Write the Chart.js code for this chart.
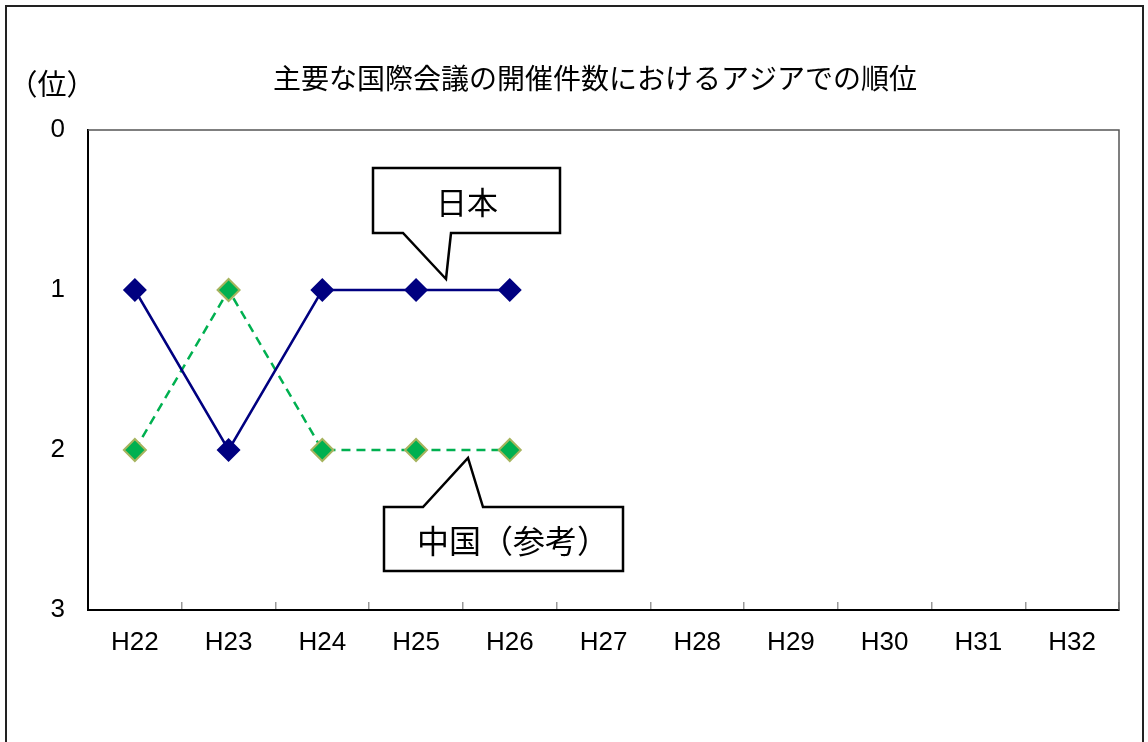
<!DOCTYPE html>
<html>
<head>
<meta charset="utf-8">
<script src="https://cdn.jsdelivr.net/npm/chart.js@4/dist/chart.umd.min.js"></script>
<style>
  body { margin: 0; background: #fff; }
  #rankChart { display: block; }
</style>
</head>
<body>
<canvas id="rankChart" width="1148" height="742"></canvas>
<script>
// data
let years = ['H22', 'H23', 'H24', 'H25', 'H26', 'H27', 'H28', 'H29', 'H30', 'H31', 'H32'];
let japanRank = [1, 2, 1, 1, 1, null, null, null, null, null, null];
let chinaRank = [2, 1, 2, 2, 2, null, null, null, null, null, null];
let rankTicks = [0, 1, 2, 3];

let titleText = '主要な国際会議の開催件数におけるアジアでの順位';
let unitText = '（位）';
let japanLabel = '日本';
let chinaLabel = '中国（参考）';

const cjkFont = '"Noto Sans CJK JP", "Noto Sans", sans-serif';
const latinFont = '"Liberation Sans", Arial, sans-serif';

// frame, title and callouts
const decorations = {
    id: 'decorations',
    beforeDraw(chart) {
        const c = chart.ctx;
        c.save();
        c.strokeStyle = '#222';
        c.lineWidth = 2;
        c.strokeRect(6, 6, 1137, 760);
        c.restore();
    },
    afterDatasetsDraw(chart) {
        const c = chart.ctx;
        const a = chart.chartArea;
        c.save();
        // top and right edges of the plot area
        c.strokeStyle = '#555';
        c.lineWidth = 1.5;
        c.beginPath();
        c.moveTo(a.left, a.top);
        c.lineTo(a.right, a.top);
        c.lineTo(a.right, a.bottom);
        c.stroke();

        c.fillStyle = '#000';
        c.textBaseline = 'middle';
        c.textAlign = 'center';
        c.font = '28px ' + cjkFont;
        c.fillText(titleText, 595, 78);
        c.font = '29px ' + cjkFont;
        c.fillText(unitText, 52, 84);

        // callout boxes
        c.lineWidth = 2.5;
        c.strokeStyle = '#000';
        c.lineJoin = 'miter';

        c.beginPath();
        c.moveTo(373, 168);
        c.lineTo(560, 168);
        c.lineTo(560, 233);
        c.lineTo(451, 233);
        c.lineTo(446, 279);
        c.lineTo(403, 233);
        c.lineTo(373, 233);
        c.closePath();
        c.fillStyle = '#fff';
        c.fill();
        c.stroke();

        c.beginPath();
        c.moveTo(384, 507);
        c.lineTo(423, 507);
        c.lineTo(468, 458);
        c.lineTo(483, 507);
        c.lineTo(623, 507);
        c.lineTo(623, 571);
        c.lineTo(384, 571);
        c.closePath();
        c.fill();
        c.stroke();

        c.fillStyle = '#000';
        c.font = '31px ' + cjkFont;
        c.fillText(japanLabel, 467, 202);
        c.font = '32px ' + cjkFont;
        c.fillText(chinaLabel, 513, 541);
        c.restore();
    }
};

let ctx = document.getElementById('rankChart').getContext('2d');

let rankChart = new Chart(ctx, {
    type: 'line',
    data: {
        labels: years,
        datasets: [{
            label: japanLabel,
            data: japanRank,
            borderColor: '#000080',
            backgroundColor: '#000080',
            borderWidth: 2.5,
            pointStyle: 'rectRot',
            pointRadius: 12,
            pointBorderWidth: 0,
            pointBackgroundColor: '#000080',
            tension: 0,
            order: 1
        }, {
            label: chinaLabel,
            data: chinaRank,
            borderColor: '#00B050',
            backgroundColor: '#00B050',
            borderWidth: 2.5,
            borderDash: [9, 6],
            pointStyle: 'rectRot',
            pointRadius: 11,
            pointBorderWidth: 2,
            pointBorderColor: '#A6B45E',
            pointBackgroundColor: '#00B050',
            tension: 0,
            order: 2
        }]
    },
    options: {
        responsive: false,
        animation: false,
        events: [],
        layout: {
            padding: { top: 130, right: 29, bottom: 0, left: 0 }
        },
        plugins: {
            legend: { display: false },
            title: { display: false },
            tooltip: { enabled: false }
        },
        scales: {
            x: {
                type: 'category',
                offset: true,
                afterFit: function (scale) { scale.height = 132; },
                grid: {
                    offset: true,
                    drawOnChartArea: false,
                    drawTicks: true,
                    tickLength: -8,
                    color: '#999',
                    lineWidth: 1.5
                },
                border: { display: true, color: '#000', width: 2 },
                ticks: {
                    color: '#000',
                    padding: 25,
                    maxRotation: 0,
                    font: { family: latinFont, size: 26 }
                }
            },
            y: {
                reverse: true,
                min: 0,
                max: 3,
                afterFit: function (scale) { scale.width = 88; },
                afterBuildTicks: function (scale) {
                    scale.ticks = rankTicks.map(v => ({ value: v }));
                },
                grid: { display: false, drawTicks: false },
                border: { display: true, color: '#000', width: 2 },
                ticks: {
                    color: '#000',
                    padding: 23,
                    font: { family: latinFont, size: 26 }
                }
            }
        }
    },
    plugins: [decorations]
});
</script>
</body>
</html>
